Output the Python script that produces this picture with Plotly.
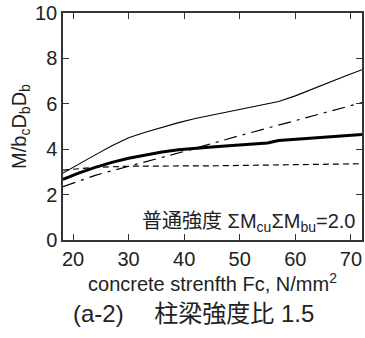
import plotly.graph_objects as go

# data
fc_thin = [18.2, 21, 24, 27, 30, 33, 36, 39, 42, 45, 48, 51, 54, 57, 60, 63, 66, 69, 72]
m_thin = [2.95, 3.35, 3.75, 4.15, 4.5, 4.75, 4.97, 5.17, 5.35, 5.5, 5.65, 5.8, 5.93, 6.1, 6.35, 6.65, 6.95, 7.22, 7.5]

fc_thick = [18.2, 21, 24, 27, 30, 33, 36, 39, 42, 45, 48, 51, 55, 57, 60, 65, 72]
m_thick = [2.67, 2.95, 3.2, 3.42, 3.6, 3.75, 3.88, 3.98, 4.05, 4.1, 4.15, 4.2, 4.27, 4.38, 4.43, 4.53, 4.65]

fc_dashdot = [18.2, 21, 24, 27, 30, 40, 50, 60, 72]
m_dashdot = [2.35, 2.6, 2.85, 3.05, 3.25, 3.9, 4.6, 5.25, 6.05]

fc_dash = [18.2, 24, 30, 46, 72]
m_dash = [3.08, 3.2, 3.25, 3.27, 3.36]

x_ticks = [20, 30, 40, 50, 60, 70]
y_ticks = [0, 2, 4, 6, 8, 10]

FONT = "Liberation Sans, Arial, sans-serif"
CJK = "Liberation Sans, Noto Sans CJK JP, sans-serif"

fig = go.Figure()
fig.add_trace(go.Scatter(x=fc_dash, y=m_dash, mode="lines",
                         line=dict(color="black", width=1.2, dash="6px,4px")))
fig.add_trace(go.Scatter(x=fc_dashdot, y=m_dashdot, mode="lines",
                         line=dict(color="black", width=1.2, dash="13px,6px,3px,6px")))
fig.add_trace(go.Scatter(x=fc_thin, y=m_thin, mode="lines",
                         line=dict(color="black", width=1.1)))
fig.add_trace(go.Scatter(x=fc_thick, y=m_thick, mode="lines",
                         line=dict(color="black", width=3)))

axis_common = dict(showgrid=False, zeroline=False, showline=True, linecolor="#333",
                   linewidth=1.5, mirror="ticks", ticks="inside", ticklen=6,
                   tickcolor="#333", tickwidth=1,
                   tickfont=dict(family=FONT, size=20, color="#222"))

fig.update_xaxes(range=[18.2, 72], tickvals=x_ticks, ticktext=[str(v) for v in x_ticks],
                 title=dict(text="concrete strenfth Fc, N/mm<sup>2</sup>",
                            font=dict(family=FONT, size=20, color="#222"), standoff=1),
                 **axis_common)
fig.update_yaxes(range=[0, 10], tickvals=y_ticks, ticktext=[str(v) for v in y_ticks],
                 title=dict(text="M/b<sub>c</sub>D<sub>b</sub>D<sub>b</sub>",
                            font=dict(family=FONT, size=20, color="#222"), standoff=3),
                 **axis_common)

fig.add_annotation(x=1, y=0, xref="paper", yref="paper", xanchor="right", yanchor="middle",
                   xshift=-6, yshift=18, showarrow=False, borderpad=0,
                   text="普通強度 ΣM<sub>cu</sub>ΣM<sub>bu</sub>=2.0",
                   font=dict(family=CJK, size=20, color="#222"))
fig.add_annotation(x=0.5, y=0, xref="paper", yref="paper", xanchor="center", yanchor="middle",
                   xshift=-19, yshift=-73, showarrow=False,
                   text="(a-2)　 柱梁強度比 1.5",
                   font=dict(family=CJK, size=24, color="#222"))

fig.update_layout(width=365, height=338, showlegend=False,
                  margin=dict(l=63, r=1, t=13, b=98),
                  paper_bgcolor="white", plot_bgcolor="white")

fig.write_html("out.html", config={"displayModeBar": False},
               post_script="document.body.style.margin='0';")
